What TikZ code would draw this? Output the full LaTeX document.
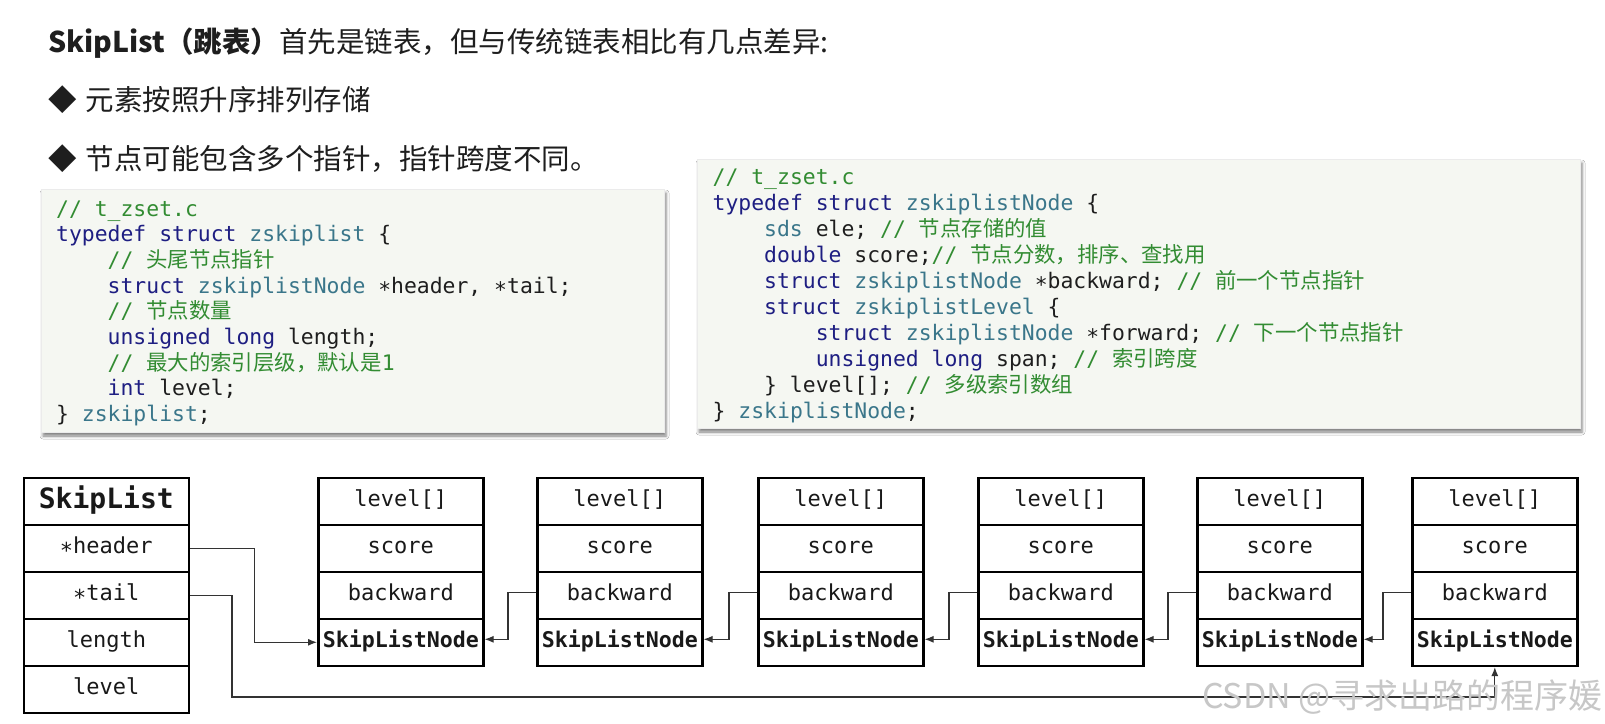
\documentclass[tikz,border=0pt]{standalone}
\usepackage{fontspec}
\setmonofont{DejaVu Sans Mono}
\newfontfamily\cjk{Noto Sans CJK SC}
\usetikzlibrary{arrows.meta,shadows.blur}

\definecolor{kwcol}{RGB}{30,30,130}
\definecolor{tycol}{RGB}{58,118,138}
\definecolor{cmcol}{RGB}{50,140,50}
\definecolor{txcol}{RGB}{30,30,30}
\definecolor{codebg}{RGB}{245,247,242}

% syntax colouring helpers for the code listings
\newcommand{\ckw}[1]{\textcolor{kwcol}{#1}}
\newcommand{\cty}[1]{\textcolor{tycol}{#1}}
\newcommand{\ccm}[1]{\textcolor{cmcol}{#1}}
\newcommand{\zh}[1]{{\cjk #1}}
% pointer star, centred on the x-height
\newcommand{\cstar}{\raisebox{-0.22em}{*}}

\tikzset{
  codeline/.style={anchor=base west, inner sep=0pt, text=txcol,
    font=\ttfamily\fontsize{21.4}{25}\selectfont},
  codebox/.style={fill=codebg, draw=black!8, line width=0.6pt,
    blur shadow={shadow xshift=2pt, shadow yshift=-4pt,
      shadow blur radius=3pt, shadow opacity=50}},
  headline/.style={anchor=base west, inner sep=0pt, text=txcol,
    font=\cjk\fontsize{28.5}{32}\selectfont},
  cell/.style={draw=black, line width=2.6pt, minimum width=165pt,
    minimum height=47pt, inner sep=0pt, anchor=north west, text=black!90,
    text height=15pt, text depth=4pt,
    font=\ttfamily\fontsize{22}{24}\selectfont},
  namecell/.style={cell, font=\ttfamily\bfseries\fontsize{21.6}{24}\selectfont},
  titlecell/.style={cell, text height=20pt, text depth=5pt,
    font=\ttfamily\bfseries\fontsize{28}{30}\selectfont},
  link/.style={draw=black!80, line width=1.1pt,
    -{Latex[length=9pt,width=7pt]}},
}

\begin{document}
\begin{tikzpicture}[x=1pt,y=-1pt]
\useasboundingbox (0,0) rectangle (1605,723);
\fill[white] (0,0) rectangle (1605,723);

% ---------- heading and bullet points ----------
\node[headline] (title) at (48,52)
  {\textbf{SkipList（跳表）}首先是链表，但与传统链表相比有几点差异:};
\node[headline] (pt1) at (48,110) {◆\hspace{9pt}元素按照升序排列存储};
\node[headline] (pt2) at (48,169) {◆\hspace{9pt}节点可能包含多个指针，指针跨度不同。};

% ---------- code listing: zskiplist ----------
\path[codebox] (41,189) rectangle (664,432);
\def\cw{12.88}
\node[codeline] (la0) at (56,216.0) {\ccm{// t\_zset.c}};
\node[codeline] (la1) at (56,241.7) {\ckw{typedef struct} \cty{zskiplist} \{};
\node[codeline] (la2) at (56+4*\cw,267.4) {\ccm{// \zh{头尾节点指针}}};
\node[codeline] (la3) at (56+4*\cw,293.1) {\ckw{struct} \cty{zskiplistNode} \cstar header, \cstar tail;};
\node[codeline] (la4) at (56+4*\cw,318.8) {\ccm{// \zh{节点数量}}};
\node[codeline] (la5) at (56+4*\cw,344.5) {\ckw{unsigned long} length;};
\node[codeline] (la6) at (56+4*\cw,370.2) {\ccm{// \zh{最大的索引层级，默认是}1}};
\node[codeline] (la7) at (56+4*\cw,395.9) {\ckw{int} level;};
\node[codeline] (la8) at (56,421.6) {\} \cty{zskiplist};};

% ---------- code listing: zskiplistNode ----------
\path[codebox] (697,159) rectangle (1580,428);
\node[codeline] (lb0) at (712.5,184) {\ccm{// t\_zset.c}};
\node[codeline] (lb1) at (712.5,210) {\ckw{typedef struct} \cty{zskiplistNode} \{};
\node[codeline] (lb2) at (712.5+4*\cw,236) {\cty{sds} ele; \ccm{// \zh{节点存储的值}}};
\node[codeline] (lb3) at (712.5+4*\cw,262) {\ckw{double} score;\ccm{// \zh{节点分数，排序、查找用}}};
\node[codeline] (lb4) at (712.5+4*\cw,288) {\ckw{struct} \cty{zskiplistNode} \cstar backward; \ccm{// \zh{前一个节点指针}}};
\node[codeline] (lb5) at (712.5+4*\cw,314) {\ckw{struct} \cty{zskiplistLevel} \{};
\node[codeline] (lb6) at (712.5+8*\cw,340) {\ckw{struct} \cty{zskiplistNode} \cstar forward; \ccm{// \zh{下一个节点指针}}};
\node[codeline] (lb7) at (712.5+8*\cw,366) {\ckw{unsigned long} span; \ccm{// \zh{索引跨度}}};
\node[codeline] (lb8) at (712.5+4*\cw,392) {\} level[]; \ccm{// \zh{多级索引数组}}};
\node[codeline] (lb9) at (712.5,418) {\} \cty{zskiplistNode};};

% ---------- SkipList structure ----------
\node[titlecell] (sl-t0) at (22.5,476.5) {SkipList};
\node[cell] (sl-h) at (22.5,523.5) {\cstar header};
\node[cell] (sl-t) at (22.5,570.5) {\cstar tail};
\node[cell] (sl-l) at (22.5,617.5) {length};
\node[cell] (sl-v) at (22.5,664.5) {level};

% ---------- SkipListNode chain ----------
\foreach \i/\x in {1/317,2/536,3/757,4/977,5/1196,6/1411}{
  \node[cell] (n\i-l) at (\x,476.5) {level[]};
  \node[cell] (n\i-s) at (\x,523.5) {score};
  \node[cell] (n\i-b) at (\x,570.5) {backward};
  \node[namecell] (n\i-n) at (\x,617.5) {SkipListNode};
}

% backward pointers
\foreach \i/\j in {2/1,3/2,4/3,5/4,6/5}{
  \draw[link] ([yshift=3pt]n\i-b.west) -- ++(-28,0) |- ([yshift=3pt]n\j-n.east);
}

% header and tail pointers
\draw[link] (sl-h.east) -- ++(64,0) |- (n1-n.west);
\coordinate (tailturn) at (232,697);
\draw[link] (sl-t.east) -| (tailturn) -| (n6-n.south);

% ---------- watermark ----------
\node[anchor=east, inner sep=0pt, text=black!22,
  font=\cjk\fontsize{34}{36}\selectfont] (wm) at (1603,697) {CSDN @寻求出路的程序媛};
\end{tikzpicture}
\end{document}
